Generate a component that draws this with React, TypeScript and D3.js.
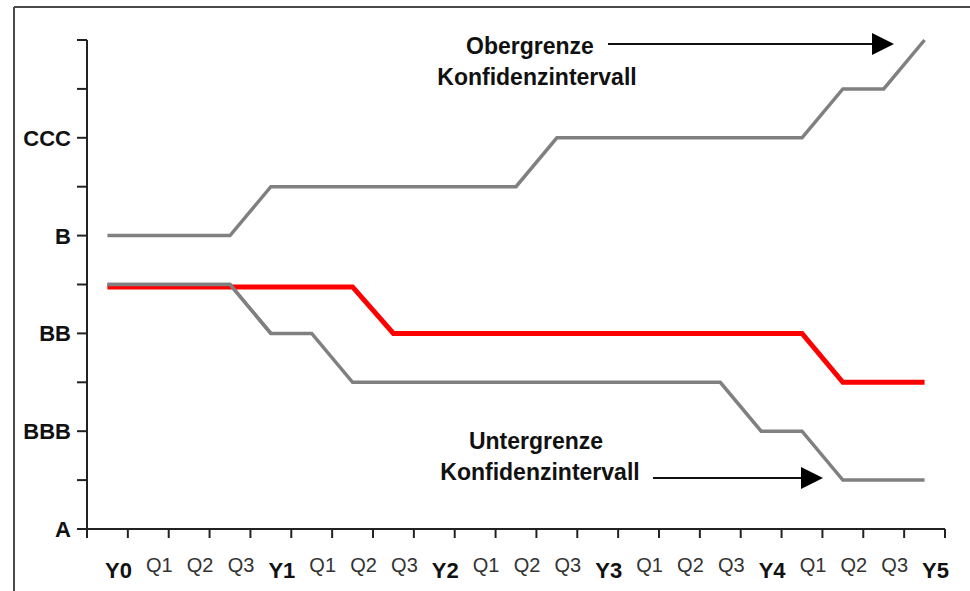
import React from "react";
import * as d3 from "d3";

const categories = ["Y0","Q1","Q2","Q3","Y1","Q1","Q2","Q3","Y2","Q1","Q2","Q3","Y3","Q1","Q2","Q3","Y4","Q1","Q2","Q3","Y5"];
const upperBound = [6,6,6,6,7,7,7,7,7,7,7,8,8,8,8,8,8,8,9,9,10];
const rating = [4.95,4.95,4.95,4.95,4.95,4.95,4.95,4,4,4,4,4,4,4,4,4,4,4,3,3,3];
const lowerBound = [5,5,5,5,4,4,3,3,3,3,3,3,3,3,3,3,2,2,1,1,1];
const ratingLabels = [
  { v: 0, label: "A" },
  { v: 2, label: "BBB" },
  { v: 4, label: "BB" },
  { v: 6, label: "B" },
  { v: 8, label: "CCC" },
];
const minorTicks = [0,1,2,3,4,5,6,7,8,9,10];

const W = 970, H = 591;
const FONT = "'Liberation Sans', Arial, Helvetica, sans-serif";

export default function App() {
  const idx = categories.map((_, i) => i);
  const x = d3.scaleBand<number>().domain(idx).range([87, 945]).padding(0);
  const y = d3.scaleLinear().domain([0, 10]).range([529, 40]);
  const cx = (i: number) => (x(i) as number) + x.bandwidth() / 2;
  const line = d3.line<number>().x((_, i) => cx(i)).y((d) => y(d));
  const tickXs = d3.range(0, categories.length + 1).map((k) => 87 + k * x.bandwidth());

  return (
    <svg width={W} height={H} style={{ position: "absolute", left: 0, top: 0, background: "#fff" }}>
      <rect x={0} y={0} width={W} height={H} fill="#fff" />
      {/* frame */}
      <line x1={14} y1={7} x2={W} y2={7} stroke="#4a4a4a" strokeWidth={2} />
      <line x1={14} y1={7} x2={14} y2={H} stroke="#4a4a4a" strokeWidth={2} />

      {/* y axis */}
      <line x1={87} y1={y(10)} x2={87} y2={y(0)} stroke="#222" strokeWidth={2} />
      {minorTicks.map((v) => (
        <line key={"yt" + v} x1={77} x2={87} y1={y(v)} y2={y(v)} stroke="#222" strokeWidth={2} />
      ))}
      {ratingLabels.map((d) => (
        <text key={d.label} x={71} y={y(d.v)} dy="0.36em" textAnchor="end" fontFamily={FONT}
          fontWeight="bold" fontSize={22} fill="#111">{d.label}</text>
      ))}

      {/* x axis */}
      <line x1={87} x2={945} y1={529} y2={529} stroke="#222" strokeWidth={2} />
      {tickXs.map((tx, k) => (
        <line key={"xt" + k} x1={tx} x2={tx} y1={529} y2={538} stroke="#222" strokeWidth={2} />
      ))}
      {categories.map((c, i) => {
        const isYear = c.startsWith("Y");
        return (
          <text key={"xl" + i} x={cx(i) + 11} y={isYear ? 578 : 572} textAnchor="middle"
            fontFamily={FONT} fontWeight={isYear ? "bold" : "normal"} fontSize={isYear ? 22 : 20}
            fill={isYear ? "#111" : "#333"}>{c}</text>
        );
      })}

      {/* series */}
      <path d={line(lowerBound) || ""} fill="none" stroke="#808080" strokeWidth={3.5} />
      <path d={line(upperBound) || ""} fill="none" stroke="#808080" strokeWidth={3.5} />
      <path d={line(rating) || ""} fill="none" stroke="#ff0000" strokeWidth={5} />
      <path d={line(lowerBound.slice(0, 5)) || ""} fill="none" stroke="#808080" strokeWidth={3.5} />

      {/* annotations */}
      <text x={530} y={54} textAnchor="middle" fontFamily={FONT} fontWeight="bold" fontSize={23} fill="#111">Obergrenze</text>
      <text x={537} y={85} textAnchor="middle" fontFamily={FONT} fontWeight="bold" fontSize={23} fill="#111">Konfidenzintervall</text>
      <line x1={608} x2={875} y1={44} y2={44} stroke="#111" strokeWidth={2} />
      <path d="M872,33 L894,44 L872,55 Z" fill="#000" />

      <text x={536} y={449} textAnchor="middle" fontFamily={FONT} fontWeight="bold" fontSize={23} fill="#111">Untergrenze</text>
      <text x={540} y={480} textAnchor="middle" fontFamily={FONT} fontWeight="bold" fontSize={23} fill="#111">Konfidenzintervall</text>
      <line x1={653} x2={804} y1={478} y2={478} stroke="#111" strokeWidth={2} />
      <path d="M801,467 L823,478 L801,489 Z" fill="#000" />
    </svg>
  );
}
